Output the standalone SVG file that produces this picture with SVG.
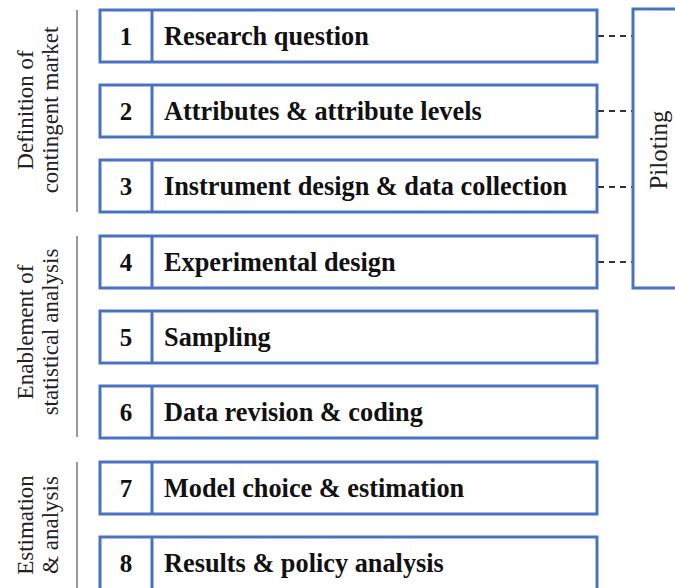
<svg xmlns="http://www.w3.org/2000/svg" width="675" height="588" viewBox="0 0 675 588">
<style>
.box{fill:#fff;stroke:#4a72c2;stroke-width:3}
.div{stroke:#4a72c2;stroke-width:3}
.num{font-family:"Liberation Serif",serif;font-weight:bold;font-size:25px;fill:#111;text-anchor:middle}
.lbl{font-family:"Liberation Serif",serif;font-weight:bold;font-size:26.3px;fill:#111}
.sec{font-family:"Liberation Serif",serif;font-size:23px;fill:#222;text-anchor:middle}
.gl{stroke:#999;stroke-width:2}
.dash{stroke:#333;stroke-width:1.8;stroke-dasharray:6,5;fill:none}
</style>
<rect width="675" height="588" fill="#fff"/>
<g id="sections">
<line class="gl" x1="77" y1="10" x2="77" y2="212"/>
<line class="gl" x1="77" y1="236" x2="77" y2="437"/>
<line class="gl" x1="77" y1="462" x2="77" y2="588"/>
<text class="sec" transform="translate(33,110) rotate(-90)">Definition of</text>
<text class="sec" transform="translate(58,110) rotate(-90)">contingent market</text>
<text class="sec" transform="translate(33,332) rotate(-90)">Enablement of</text>
<text class="sec" transform="translate(58,332) rotate(-90)">statistical analysis</text>
<text class="sec" transform="translate(33,525) rotate(-90)">Estimation</text>
<text class="sec" transform="translate(58,525) rotate(-90)">&amp; analysis</text>
</g>
<g id="connectors">
<line class="dash" x1="598" y1="36" x2="633" y2="36"/>
<line class="dash" x1="598" y1="111" x2="633" y2="111"/>
<line class="dash" x1="598" y1="187" x2="633" y2="187"/>
<line class="dash" x1="598" y1="262" x2="633" y2="262"/>
</g>
<g id="piloting">
<rect class="box" x="633" y="9" width="60" height="279"/>
<text class="sec" transform="translate(667,150) rotate(-90)" style="font-size:25px">Piloting</text>
</g>
<g id="n1"><rect class="box" x="100" y="10" width="497" height="52"/><line class="div" x1="152" y1="10" x2="152" y2="62"/><text class="num" x="126" y="45">1</text><text class="lbl" x="164" y="45">Research question</text></g>
<g id="n2"><rect class="box" x="100" y="85" width="497" height="52"/><line class="div" x1="152" y1="85" x2="152" y2="137"/><text class="num" x="126" y="120">2</text><text class="lbl" x="164" y="120">Attributes &amp; attribute levels</text></g>
<g id="n3"><rect class="box" x="100" y="160" width="497" height="52"/><line class="div" x1="152" y1="160" x2="152" y2="212"/><text class="num" x="126" y="195">3</text><text class="lbl" x="164" y="195">Instrument design &amp; data collection</text></g>
<g id="n4"><rect class="box" x="100" y="236" width="497" height="52"/><line class="div" x1="152" y1="236" x2="152" y2="288"/><text class="num" x="126" y="271">4</text><text class="lbl" x="164" y="271">Experimental design</text></g>
<g id="n5"><rect class="box" x="100" y="311" width="497" height="52"/><line class="div" x1="152" y1="311" x2="152" y2="363"/><text class="num" x="126" y="346">5</text><text class="lbl" x="164" y="346">Sampling</text></g>
<g id="n6"><rect class="box" x="100" y="386" width="497" height="52"/><line class="div" x1="152" y1="386" x2="152" y2="438"/><text class="num" x="126" y="421">6</text><text class="lbl" x="164" y="421">Data revision &amp; coding</text></g>
<g id="n7"><rect class="box" x="100" y="462" width="497" height="52"/><line class="div" x1="152" y1="462" x2="152" y2="514"/><text class="num" x="126" y="497">7</text><text class="lbl" x="164" y="497">Model choice &amp; estimation</text></g>
<g id="n8"><rect class="box" x="100" y="537" width="497" height="60"/><line class="div" x1="152" y1="537" x2="152" y2="597"/><text class="num" x="126" y="572">8</text><text class="lbl" x="164" y="572">Results &amp; policy analysis</text></g>
</svg>
